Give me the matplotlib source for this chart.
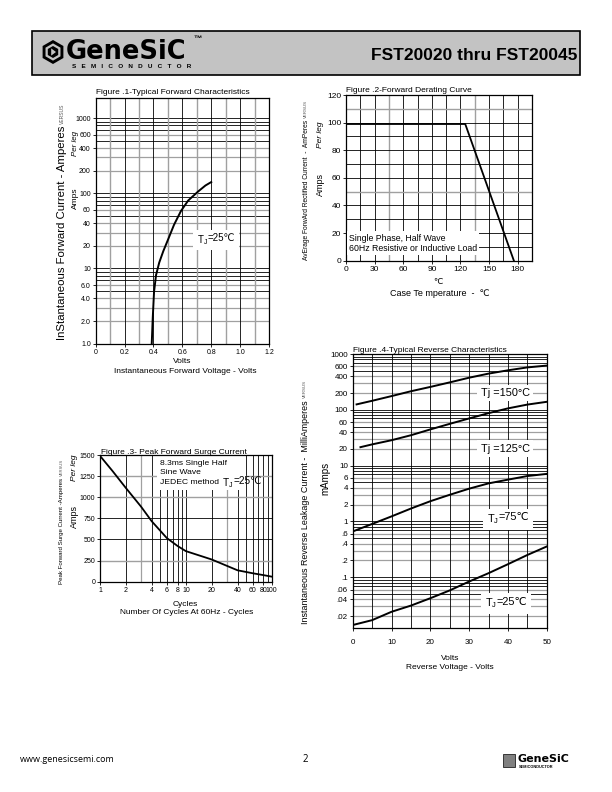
import matplotlib
matplotlib.use('Agg')
import numpy as np
import matplotlib.pyplot as plt
from matplotlib.patches import Rectangle, Polygon
from matplotlib.ticker import FixedLocator, NullLocator
from matplotlib.transforms import Bbox

plt.rcParams['font.family'] = ['Liberation Sans', 'DejaVu Sans']
plt.rcParams['mathtext.fontset'] = 'custom'
plt.rcParams['mathtext.rm'] = 'Liberation Sans'

# fig 1 - forward characteristics
fwd_v = [0.388, 0.395, 0.404, 0.418, 0.44, 0.468, 0.50, 0.542, 0.59, 0.64, 0.71, 0.76, 0.80]
fwd_i = [1.0, 2.2, 4.9, 8.2, 12, 17, 24, 38, 58, 80, 106, 127, 141]
fwd_xt = [0, 0.2, 0.4, 0.6, 0.8, 1.0, 1.2]
fwd_xl = ['0', '0.2', '0.4', '0.6', '0.8', '1.0', '1.2']
fwd_yt = [1, 2, 4, 6, 10, 20, 40, 60, 100, 200, 400, 600, 1000]
fwd_yl = ['1.0', '2.0', '4.0', '6.0', '10', '20', '40', '60', '100', '200', '400', '600', '1000']

# fig 2 - derating
der_t = [0, 125, 176]
der_a = [99, 99, 0]
der_xt = [0, 30, 60, 90, 120, 150, 180]
der_yt = [0, 20, 40, 60, 80, 100, 120]

# fig 3 - surge
srg_n = [1, 1.4, 2, 3, 4, 6, 8, 10, 20, 40, 60, 80, 100]
srg_a = [1490, 1310, 1110, 890, 716, 517, 423, 362, 263, 135, 100, 78, 60]
srg_xt = [1, 2, 4, 6, 8, 10, 20, 40, 60, 80, 100]
srg_yt = [0, 250, 500, 750, 1000, 1250, 1500]

# fig 4 - reverse characteristics
rev_x150 = [1, 5, 10, 15, 20, 25, 30, 35, 40, 45, 50]
rev_150 = [125, 145, 176, 215, 257, 310, 376, 445, 510, 575, 620]
rev_x125 = [2, 5, 10, 15, 20, 25, 30, 35, 40, 45, 50]
rev_125 = [21.4, 24, 28.5, 35, 44.5, 56, 70, 87, 106, 124, 139]
rev_x = [0, 5, 10, 15, 20, 25, 30, 35, 40, 45, 50]
rev_75 = [0.66, 0.9, 1.23, 1.7, 2.3, 3.0, 3.86, 4.8, 5.6, 6.5, 7.1]
rev_25 = [0.0139, 0.017, 0.024, 0.031, 0.042, 0.058, 0.0836, 0.118, 0.171, 0.25, 0.355]
rev_yt = [0.02, 0.04, 0.06, 0.1, 0.2, 0.4, 0.6, 1, 2, 4, 6, 10, 20, 40, 60, 100, 200, 400, 600, 1000]
rev_yl = ['.02', '.04', '.06', '.1', '.2', '.4', '.6', '1', '2', '4', '6', '10', '20', '40', '60', '100', '200', '400', '600', '1000']

W, H = 612, 792
fig = plt.figure(figsize=(6.12, 7.92), dpi=100)

# page overlay in pixel coords
pg = fig.add_axes([0, 0, 1, 1])
pg.set_xlim(0, W)
pg.set_ylim(H, 0)
pg.axis('off')


def box(x0, y0, x1, y1):
    return [x0 / W, 1 - y1 / H, (x1 - x0) / W, (y1 - y0) / H]


def hexlogo(cx, cy, r, ax):
    ang = np.radians(np.arange(6) * 60 + 30)
    ax.add_patch(Polygon(list(zip(cx + r * np.cos(ang), cy + r * np.sin(ang))), closed=True, fc='black', ec='none'))
    ax.add_patch(Polygon(list(zip(cx + 0.72 * r * np.cos(ang), cy + 0.72 * r * np.sin(ang))), closed=True, fc='#c3c3c3', ec='none'))
    ax.add_patch(Polygon(list(zip(cx + 0.5 * r * np.cos(ang), cy + 0.5 * r * np.sin(ang))), closed=True, fc='black', ec='none'))
    ax.add_patch(Polygon([(cx - 0.15 * r, cy - 0.3 * r), (cx + 0.25 * r, cy), (cx - 0.15 * r, cy + 0.3 * r)], closed=True, fc='#c3c3c3', ec='none'))


# header
pg.add_patch(Rectangle((32, 31), 548, 44, fc='#c3c3c3', ec='black', lw=1.2))
hexlogo(53, 52, 12, pg)
pg.text(66, 52, 'GeneSiC', fontsize=18.5, weight='heavy', family='DejaVu Sans', va='center', ha='left')
pg.text(193, 39, '™', fontsize=6, weight='bold', va='center', ha='left')
pg.text(72, 67, 'S   E   M   I   C   O   N   D   U   C   T   O   R', fontsize=4.6, weight='bold', va='center', ha='left')
pg.text(577, 55, 'FST20020 thru FST20045', fontsize=12.5, weight='bold', ha='right', va='center')

# footer
pg.text(20, 760, 'www.genesicsemi.com', fontsize=6.5, family='Open Sans', va='center')
pg.text(305, 760, '2', fontsize=7, family='Open Sans', va='center', ha='center')
pg.add_patch(Rectangle((503, 754), 12, 13, fc='#808080', ec='black', lw=0.5))
pg.text(517, 759, 'GeneSiC', fontsize=8, weight='heavy', family='DejaVu Sans', va='center')
pg.text(519, 767.5, 'SEMICONDUCTOR', fontsize=2.8, weight='bold', va='center')

FS = 6
GRAY = '#a0a0a0'
tj_boxes = []


def style(ax, ts):
    for s in ax.spines.values():
        s.set_linewidth(0.9)
    ax.tick_params(labelsize=ts, length=2, width=0.6, pad=1.5)
    ax.yaxis.set_minor_locator(NullLocator())
    ax.xaxis.set_minor_locator(NullLocator())


def loggrid(ax, lo, hi):
    d = 10.0 ** lo
    while d < 10.0 ** hi:
        for m in range(1, 10):
            v = m * d
            if 10.0 ** lo < v < 10.0 ** hi:
                c = GRAY if m in (2, 3, 4, 6) else 'black'
                ax.axhline(v, color=c, lw=0.9 if c == GRAY else 0.6, zorder=1)
        d *= 10


def ylab(x, y, s, fs, vs_fs):
    t = pg.text(x, y, s, fontsize=fs, rotation=90, ha='center', va='top')
    pg.text(x, y - 2, 'VERSUS', fontsize=vs_fs, rotation=90, ha='center', va='bottom', color='#555555')
    return t


def tj(ax, x, y, rest, fs, tr=None, bg=True):
    tr = tr if tr is not None else ax.transData
    t1 = ax.text(x, y, r'T$_\mathregular{J}$', va='center', ha='left', transform=tr, fontsize=fs, zorder=4)
    t2 = ax.annotate(rest, xy=(1, 0.62), xycoords=t1, va='center', ha='left', fontsize=fs, zorder=4)
    if bg:
        tj_boxes.append((ax, t1, t2))


# Figure 1
ax1 = fig.add_axes(box(95.7, 98, 269, 343.7))
ax1.set_yscale('log')
ax1.set_xlim(0, 1.2)
ax1.set_ylim(1, 1850)
loggrid(ax1, 0, 3.3)
for i in range(1, 12):
    ax1.axvline(i * 0.1, color=GRAY if i % 2 else 'black', lw=1.0 if i % 2 else 0.6, zorder=1)
ax1.plot(fwd_v, fwd_i, color='black', lw=1.4, zorder=3)
ax1.set_xticks(fwd_xt)
ax1.set_xticklabels(fwd_xl)
ax1.yaxis.set_major_locator(FixedLocator(fwd_yt))
ax1.set_yticklabels(fwd_yl)
style(ax1, 5)
tj(ax1, 0.7, 24, '=25℃', FS + 1)
pg.text(96, 92, 'Figure .1-Typical Forward Characteristics', fontsize=FS, va='center')
pg.text(182, 361.5, 'Volts', fontsize=FS, ha='center', va='center')
pg.text(185, 371.5, 'Instantaneous Forward Voltage - Volts', fontsize=FS, ha='center', va='center')
ylab(62, 126, 'InStantaneous Forward Current - Amperes', 8.2, 3.6)
pg.text(75.5, 143, 'Per leg', fontsize=FS - 0.3, rotation=90, ha='center', va='center', style='italic')
pg.text(75.5, 198, 'Amps', fontsize=FS, rotation=90, ha='center', va='center')

# Figure 2
ax2 = fig.add_axes(box(346, 95, 532, 260.7))
ax2.set_xlim(0, 195)
ax2.set_ylim(0, 120)
for i in range(1, 13):
    ax2.axvline(i * 15, color=GRAY if i in (3, 9) else 'black', lw=1.0 if i in (3, 9) else 0.6, zorder=1)
for i in range(1, 12):
    ax2.axhline(i * 10, color=GRAY if i in (5, 11) else 'black', lw=1.0 if i in (5, 11) else 0.6, zorder=1)
ax2.plot(der_t, der_a, color='black', lw=1.3, zorder=3)
ax2.set_xticks(der_xt)
ax2.set_yticks(der_yt)
style(ax2, 6)
ax2.text(3, 12.5, 'Single Phase, Half Wave\n60Hz Resistive or Inductive Load', fontsize=FS + 0.3,
         va='center', ha='left', linespacing=1.25, zorder=4, bbox=dict(fc='white', ec='none', pad=1.5))
pg.text(346, 90, 'Figure .2-Forward Derating Curve', fontsize=FS, va='center')
pg.text(437.7, 283, '℃', fontsize=FS, ha='center', va='center')
pg.text(440, 293, 'Case Te mperature  -  ℃', fontsize=FS + 0.5, ha='center', va='center')
ylab(306, 120, 'AvErage ForwArd Rectified Current  -  AmPeres', 4.8, 3.2)
pg.text(320, 135, 'Per leg', fontsize=FS, rotation=90, ha='center', va='center', style='italic')
pg.text(320, 185, 'Amps', fontsize=FS + 0.5, rotation=90, ha='center', va='center')

# Figure 3
ax3 = fig.add_axes(box(100, 455, 271.7, 581.7))
ax3.set_xscale('log')
ax3.set_xlim(1, 100)
ax3.set_ylim(0, 1500)
for v in [2, 3, 4, 5, 6, 7, 8, 9, 10, 20, 30, 40, 50, 60, 70, 80, 90]:
    ax3.axvline(v, color=GRAY if v in (3, 30) else 'black', lw=0.9 if v in (3, 30) else 0.6, zorder=1)
for v in [250, 500, 750, 1000, 1250]:
    ax3.axhline(v, color=GRAY if v in (250, 1000, 1250) else 'black', lw=1.0 if v in (250, 1000, 1250) else 0.6, zorder=1)
ax3.plot(srg_n, srg_a, color='black', lw=1.3, zorder=3)
ax3.xaxis.set_major_locator(FixedLocator(srg_xt))
ax3.set_xticklabels([str(v) for v in srg_xt])
ax3.set_yticks(srg_yt)
style(ax3, 5)
ax3.add_patch(Rectangle((0.33, 0.725), 0.52, 0.27, transform=ax3.transAxes, fc='white', ec='none', zorder=2))
yt3 = ax3.get_yaxis_transform()
for yy, s in [(1404, '8.3ms Single Half'), (1293, 'Sine Wave'), (1174, 'JEDEC method')]:
    ax3.text(0.35, yy, s, fontsize=FS + 0.1, va='center', ha='left', transform=yt3, zorder=4)
tj(ax3, 0.71, 1168, '=25℃', FS + 1.2, tr=yt3, bg=False)
pg.text(101, 453, 'Figure .3- Peak Forward Surge Current', fontsize=FS, va='center')
pg.text(185, 604, 'Cycles', fontsize=FS, ha='center', va='center')
pg.text(187, 612.5, 'Number Of Cycles At 60Hz - Cycles', fontsize=FS, ha='center', va='center')
ylab(62, 478, 'Peak Forward Surge Current -Amperes', 4.4, 3.0)
pg.text(74, 468, 'Per leg', fontsize=FS, rotation=90, ha='center', va='center', style='italic')
pg.text(74, 517, 'Amps', fontsize=FS + 0.5, rotation=90, ha='center', va='center')

# Figure 4
ax4 = fig.add_axes(box(352.7, 354, 546.7, 628))
ax4.set_yscale('log')
ax4.set_xlim(0, 50)
ax4.set_ylim(0.0123, 1000)
loggrid(ax4, -2, 3)
for i in range(1, 10):
    ax4.axvline(i * 5, color='black', lw=0.6, zorder=1)
ax4.plot(rev_x150, rev_150, color='black', lw=1.4, zorder=3)
ax4.plot(rev_x125, rev_125, color='black', lw=1.4, zorder=3)
ax4.plot(rev_x, rev_75, color='black', lw=1.4, zorder=3)
ax4.plot(rev_x, rev_25, color='black', lw=1.4, zorder=3)
ax4.set_xticks([0, 10, 20, 30, 40, 50])
ax4.yaxis.set_major_locator(FixedLocator(rev_yt))
ax4.set_yticklabels(rev_yl)
style(ax4, 5.8)
ax4.tick_params(axis='x', pad=6)
for yy, s in [(200, 'Tj =150°C'), (20, 'Tj =125°C')]:
    ax4.text(33, yy, s, fontsize=FS + 1.8, va='center', ha='left', zorder=4,
             bbox=dict(fc='white', ec='none', pad=2.5))
tj(ax4, 34.5, 1.1, '=75℃', FS + 1.8)
tj(ax4, 34, 0.034, '=25℃', FS + 1.8)
pg.text(353, 350, 'Figure .4-Typical Reverse Characteristics', fontsize=FS, va='center')
pg.text(450, 658, 'Volts', fontsize=FS, ha='center', va='center')
pg.text(450, 667.5, 'Reverse Voltage - Volts', fontsize=FS, ha='center', va='center')
ylab(305, 400, 'Instantaneous Reverse Leakage Current -  MilliAmperes', 6.4, 3.2)
pg.text(325, 478, 'mAmps', fontsize=FS + 1, rotation=90, ha='center', va='center')

# white patches behind the T_J labels
fig.canvas.draw()
rnd = fig.canvas.get_renderer()
for ax, t1, t2 in tj_boxes:
    bb = Bbox.union([t1.get_window_extent(rnd), t2.get_window_extent(rnd)]).expanded(1.0, 1.0)
    bb = Bbox.from_extents(bb.x0 - 3.5, bb.y0 - 3.5, bb.x1 + 3.5, bb.y1 + 3.5)
    ab = bb.transformed(ax.transAxes.inverted())
    ax.add_patch(Rectangle((ab.x0, ab.y0), ab.width, ab.height, transform=ax.transAxes,
                           fc='white', ec='none', zorder=3.5))

fig.savefig('out.png', dpi=100)
